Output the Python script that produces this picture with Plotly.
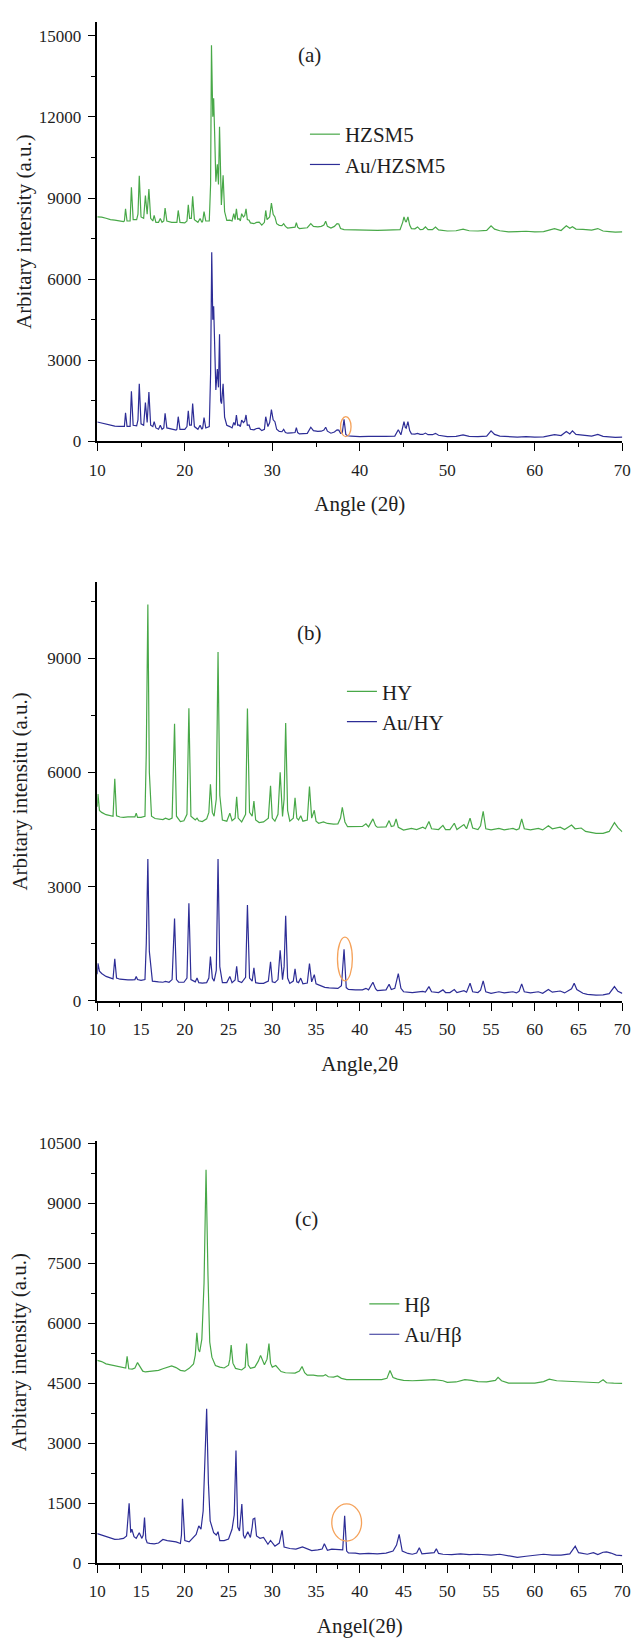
import plotly.graph_objects as go

# ---------------- data ----------------
# Panel (a)
hzsm5_pts = [(10.0, 8300), (10.5, 8290), (11.0, 8250), (11.5, 8200), (12.0, 8180), (12.5, 8150), (13.0, 8130),
    (13.1, 8150), (13.23, 8600), (13.4, 8150), (13.75, 8150), (13.9, 9400), (14.1, 8200),
    (14.5, 8200), (14.65, 8400), (14.8, 9820), (15.0, 8300), (15.3, 8250), (15.5, 9090), (15.7, 8400),
    (15.9, 9330), (16.1, 8250), (16.35, 8150), (16.5, 8360), (16.7, 8100), (17.0, 8100), (17.2, 8240),
    (17.4, 8100), (17.6, 8150), (17.75, 8630), (17.95, 8150), (18.5, 8100), (19.0, 8080), (19.1, 8100),
    (19.25, 8540), (19.45, 8100), (20.0, 8080), (20.25, 8150), (20.4, 8750), (20.55, 8250), (20.75, 8250),
    (20.9, 9060), (21.1, 8200), (21.5, 8100), (21.75, 8240), (21.95, 8100), (22.05, 8150), (22.2, 8500),
    (22.4, 8150), (22.8, 8150), (22.95, 9500), (23.05, 14650), (23.2, 12000), (23.3, 12690), (23.42, 11300),
    (23.55, 9600), (23.72, 10250), (23.85, 9500), (23.97, 11630), (24.1, 8900), (24.18, 8745), (24.38, 9840),
    (24.55, 8500), (24.8, 8170), (25.15, 8180), (25.4, 8150), (25.6, 8420), (25.75, 8200), (25.9, 8600),
    (26.05, 8200), (26.2, 8240), (26.35, 8150), (26.5, 8420), (26.7, 8300), (26.85, 8350), (27.0, 8600),
    (27.15, 8200), (27.35, 8180), (27.5, 8080), (27.9, 8050), (28.2, 8100), (28.5, 8110), (28.8, 8000),
    (29.1, 8100), (29.25, 8540), (29.4, 8200), (29.5, 8240), (29.7, 8300), (29.9, 8810), (30.1, 8400),
    (30.3, 8300), (30.5, 8050), (30.8, 7990), (31.1, 7980), (31.3, 8050), (31.5, 7950), (31.75, 7890),
    (32.2, 7900), (32.6, 7920), (32.75, 8090), (32.9, 7920), (33.1, 7870), (33.6, 7880), (34.0, 7900),
    (34.4, 8050), (34.7, 7950), (35.2, 7930), (35.6, 7950), (35.9, 8000), (36.1, 8140), (36.3, 7950),
    (36.7, 7890), (37.1, 7950), (37.4, 8050), (37.6, 8040), (37.8, 7870), (38.2, 7830), (39.0, 7820),
    (40.0, 7810), (41.0, 7820), (42.0, 7800), (43.0, 7810), (44.0, 7810), (44.6, 7830), (44.9, 8100),
    (45.05, 8300), (45.2, 8150), (45.3, 8110), (45.5, 8300), (45.7, 8000), (45.9, 7870), (46.3, 7860),
    (46.6, 7930), (46.9, 7830), (47.2, 7840), (47.5, 7930), (47.8, 7830), (48.3, 7830), (48.65, 7930),
    (49.0, 7820), (50.0, 7780), (51.0, 7790), (51.8, 7850), (52.5, 7790), (53.5, 7780), (54.5, 7800),
    (55.0, 7970), (55.4, 7850), (56.0, 7790), (57.0, 7750), (58.0, 7760), (59.0, 7770), (60.0, 7750),
    (61.0, 7760), (62.25, 7870), (63.0, 7800), (63.6, 7970), (64.0, 7880), (64.3, 7940), (64.7, 7850),
    (65.5, 7840), (66.5, 7810), (67.2, 7870), (67.8, 7780), (68.5, 7760), (69.2, 7740), (70.0, 7750)]

au_hzsm5_pts = [(10.0, 720), (10.5, 680), (11.0, 650), (11.5, 620), (12.0, 570), (12.5, 560), (13.0, 540),
    (13.1, 560), (13.23, 1060), (13.4, 560), (13.75, 560), (13.9, 1855), (14.1, 600), (14.5, 580),
    (14.65, 800), (14.8, 2135), (15.0, 650), (15.3, 600), (15.5, 1440), (15.7, 700), (15.9, 1830),
    (16.1, 600), (16.35, 550), (16.5, 730), (16.7, 500), (17.0, 450), (17.2, 600), (17.4, 450), (17.6, 500),
    (17.75, 1040), (17.95, 500), (18.5, 450), (19.0, 420), (19.1, 450), (19.25, 915), (19.45, 450),
    (20.0, 450), (20.25, 550), (20.4, 1135), (20.55, 600), (20.75, 600), (20.9, 1400), (21.1, 550),
    (21.5, 450), (21.75, 600), (21.95, 450), (22.05, 500), (22.2, 880), (22.4, 500), (22.8, 550),
    (22.95, 2500), (23.08, 6990), (23.2, 4500), (23.3, 5000), (23.42, 3300), (23.55, 1900), (23.72, 2680),
    (23.85, 2000), (23.97, 3965), (24.1, 1500), (24.2, 1400), (24.38, 2135), (24.55, 900), (24.8, 600),
    (25.15, 550), (25.4, 500), (25.6, 700), (25.75, 600), (25.9, 980), (26.05, 600), (26.2, 610),
    (26.35, 550), (26.5, 790), (26.7, 700), (26.85, 750), (27.0, 980), (27.15, 600), (27.35, 610),
    (27.5, 450), (27.9, 430), (28.2, 480), (28.5, 490), (28.8, 400), (29.1, 450), (29.25, 915), (29.4, 600),
    (29.5, 550), (29.7, 700), (29.9, 1180), (30.1, 800), (30.3, 730), (30.5, 450), (30.8, 370), (31.1, 360),
    (31.3, 450), (31.5, 330), (31.75, 305), (32.2, 320), (32.6, 330), (32.75, 510), (32.9, 330), (33.1, 280),
    (33.6, 290), (34.0, 300), (34.4, 525), (34.7, 400), (35.2, 370), (35.6, 380), (35.9, 420), (36.1, 525),
    (36.3, 380), (36.7, 305), (37.1, 350), (37.4, 430), (37.6, 420), (37.8, 300), (38.0, 320), (38.2, 820),
    (38.4, 260), (38.6, 210), (39.0, 200), (40.0, 180), (41.0, 190), (42.0, 180), (43.0, 190), (44.0, 200),
    (44.4, 430), (44.7, 245), (44.9, 500), (45.05, 730), (45.2, 520), (45.3, 490), (45.5, 730), (45.7, 400),
    (45.9, 280), (46.3, 270), (46.6, 300), (46.9, 260), (47.2, 260), (47.5, 310), (47.8, 250), (48.3, 250),
    (48.65, 300), (49.0, 230), (50.0, 180), (51.0, 190), (51.8, 240), (52.5, 190), (53.5, 180), (54.5, 200),
    (55.0, 390), (55.4, 260), (56.0, 200), (57.0, 170), (58.0, 160), (59.0, 180), (60.0, 160), (61.0, 170),
    (62.25, 250), (63.0, 220), (63.6, 370), (64.0, 280), (64.3, 390), (64.7, 260), (65.5, 240), (66.5, 200),
    (67.2, 260), (67.8, 190), (68.5, 170), (69.2, 150), (70.0, 160)]

# Panel (b)
hy_pts = [(10.0, 5100), (10.08, 5430), (10.25, 5000), (10.5, 4950), (11.0, 4890), (11.5, 4860), (11.8, 4850),
    (12.0, 5830), (12.2, 4860), (12.6, 4830), (13.0, 4820), (13.5, 4830), (14.0, 4820), (14.3, 4830),
    (14.45, 4930), (14.6, 4820), (15.0, 4820), (15.45, 4850), (15.6, 6500), (15.78, 10410), (15.95, 6000),
    (16.2, 4850), (16.6, 4790), (17.0, 4770), (17.5, 4760), (17.8, 4800), (18.2, 4760), (18.55, 4800),
    (18.83, 7275), (19.05, 4850), (19.5, 4710), (19.9, 4730), (20.25, 4900), (20.47, 7686), (20.7, 4850),
    (21.2, 4750), (21.4, 4800), (21.6, 4730), (22.0, 4710), (22.5, 4780), (22.75, 4950), (22.93, 5690),
    (23.15, 4950), (23.35, 4850), (23.6, 5300), (23.8, 9160), (24.0, 5400), (24.3, 4750), (24.8, 4720),
    (25.15, 4930), (25.4, 4730), (25.75, 4800), (25.93, 5360), (26.1, 4800), (26.5, 4700), (26.95, 4900),
    (27.16, 7677), (27.4, 4950), (27.7, 4850), (27.9, 5245), (28.1, 4750), (28.5, 4683), (29.0, 4700),
    (29.55, 4800), (29.8, 5650), (30.0, 4800), (30.3, 4720), (30.65, 4900), (30.9, 6005), (31.17, 4845),
    (31.35, 5300), (31.53, 7300), (31.75, 5000), (32.0, 4720), (32.4, 4800), (32.6, 5335), (32.8, 4800),
    (33.0, 4750), (33.25, 4860), (33.5, 4720), (34.0, 4750), (34.25, 5630), (34.5, 4800), (34.8, 5005),
    (35.0, 4720), (35.3, 4665), (35.85, 4700), (36.3, 4660), (37.0, 4640), (37.5, 4650), (37.8, 4800),
    (38.0, 5085), (38.3, 4700), (38.6, 4575), (39.5, 4570), (40.3, 4580), (40.7, 4650), (41.0, 4570),
    (41.5, 4780), (41.8, 4600), (42.0, 4560), (42.5, 4560), (43.0, 4570), (43.35, 4735), (43.6, 4580),
    (43.9, 4600), (44.15, 4780), (44.4, 4560), (45.0, 4486), (45.9, 4530), (46.5, 4500), (47.2, 4560),
    (47.5, 4520), (47.9, 4710), (48.2, 4520), (49.0, 4500), (49.5, 4610), (49.8, 4500), (50.3, 4500),
    (50.8, 4665), (51.1, 4500), (51.9, 4630), (52.2, 4520), (52.6, 4800), (52.9, 4540), (53.5, 4500),
    (53.8, 4600), (54.1, 4980), (54.4, 4520), (55.0, 4490), (55.9, 4530), (56.5, 4490), (57.5, 4530),
    (57.9, 4490), (58.2, 4520), (58.5, 4780), (58.8, 4520), (59.5, 4490), (60.4, 4530), (60.9, 4490),
    (61.55, 4600), (62.0, 4520), (62.9, 4560), (63.4, 4500), (64.2, 4620), (64.6, 4520), (65.3, 4540),
    (65.8, 4450), (66.5, 4420), (67.0, 4397), (67.8, 4400), (68.5, 4450), (69.1, 4683), (69.5, 4550),
    (70.0, 4440)]

au_hy_pts = [(10.0, 700), (10.08, 985), (10.25, 780), (10.5, 720), (11.0, 643), (11.5, 600), (11.8, 580),
    (12.0, 1108), (12.2, 600), (12.6, 570), (13.0, 560), (13.5, 555), (14.0, 554), (14.3, 560), (14.45, 643),
    (14.6, 560), (15.0, 540), (15.45, 560), (15.6, 1500), (15.78, 3727), (15.95, 1300), (16.3, 520),
    (17.0, 500), (17.5, 490), (17.8, 510), (18.2, 490), (18.55, 560), (18.83, 2163), (19.05, 560),
    (19.3, 490), (19.9, 490), (20.25, 600), (20.47, 2565), (20.7, 560), (21.2, 500), (21.4, 600),
    (21.6, 480), (22.0, 465), (22.5, 480), (22.75, 600), (22.93, 1162), (23.15, 600), (23.35, 520),
    (23.6, 800), (23.8, 3727), (24.0, 900), (24.3, 480), (24.8, 480), (25.15, 643), (25.4, 480),
    (25.75, 550), (25.93, 911), (26.1, 520), (26.5, 480), (26.95, 620), (27.16, 2520), (27.4, 600),
    (27.7, 520), (27.9, 867), (28.1, 480), (28.5, 460), (29.0, 460), (29.55, 520), (29.8, 1028),
    (30.0, 500), (30.3, 480), (30.65, 560), (30.9, 1332), (31.17, 560), (31.35, 900), (31.53, 2234),
    (31.75, 600), (32.0, 460), (32.4, 520), (32.6, 840), (32.8, 500), (33.0, 480), (33.25, 599),
    (33.5, 450), (34.0, 470), (34.25, 983), (34.5, 500), (34.8, 688), (35.0, 450), (35.3, 420),
    (36.0, 357), (36.5, 340), (37.0, 330), (37.5, 330), (37.9, 400), (38.2, 1358), (38.45, 350),
    (38.7, 304), (39.5, 290), (40.3, 290), (40.7, 330), (41.0, 290), (41.5, 490), (41.8, 320), (42.0, 270),
    (42.5, 290), (43.0, 290), (43.35, 438), (43.6, 300), (44.0, 330), (44.4, 715), (44.7, 330), (45.0, 241),
    (46.0, 220), (46.5, 230), (47.2, 250), (47.5, 230), (47.9, 375), (48.2, 240), (49.0, 220), (49.5, 290),
    (49.8, 220), (50.3, 220), (50.8, 300), (51.1, 220), (51.9, 270), (52.2, 230), (52.6, 465), (52.9, 240),
    (53.5, 220), (53.8, 280), (54.1, 527), (54.4, 240), (55.0, 200), (55.9, 240), (56.5, 210), (57.5, 240),
    (57.9, 210), (58.2, 250), (58.5, 447), (58.8, 240), (59.5, 210), (60.4, 240), (60.9, 200), (61.55, 300),
    (62.0, 230), (62.9, 260), (63.4, 210), (64.2, 320), (64.5, 465), (64.8, 300), (65.5, 200), (66.0, 170),
    (67.0, 152), (67.8, 160), (68.5, 190), (69.1, 375), (69.5, 250), (70.0, 197)]

# Panel (c)
hbeta_pts = [(10.0, 5070), (10.5, 5040), (11.0, 4984), (11.5, 4960), (12.0, 4940), (12.5, 4900), (13.0, 4874),
    (13.25, 4880), (13.41, 5170), (13.6, 4860), (14.0, 4850), (14.3, 4880), (14.6, 5015), (14.9, 4900),
    (15.2, 4800), (15.5, 4780), (16.0, 4790), (16.5, 4800), (17.0, 4820), (17.5, 4860), (18.0, 4900),
    (18.5, 4930), (19.0, 4890), (19.5, 4820), (20.0, 4800), (20.5, 4870), (21.0, 4980), (21.2, 5200),
    (21.38, 5760), (21.55, 5350), (21.7, 5280), (21.95, 5600), (22.2, 7000), (22.43, 9840), (22.65, 7200),
    (22.85, 5530), (23.1, 5150), (23.5, 4940), (24.0, 4900), (24.5, 4880), (25.0, 4950), (25.15, 5100),
    (25.3, 5450), (25.5, 5000), (25.8, 4870), (26.5, 4830), (26.9, 4900), (27.07, 5490), (27.25, 4950),
    (27.5, 4870), (28.0, 4900), (28.4, 5050), (28.66, 5195), (28.9, 5050), (29.1, 4960), (29.4, 5100),
    (29.62, 5490), (29.8, 5000), (30.0, 4900), (30.4, 4940), (30.7, 4850), (31.0, 4790), (31.5, 4760),
    (32.0, 4750), (32.6, 4750), (33.1, 4800), (33.4, 4916), (33.7, 4760), (34.0, 4700), (34.7, 4700),
    (35.2, 4680), (35.8, 4680), (36.08, 4713), (36.4, 4660), (37.0, 4650), (37.45, 4680), (37.9, 4620),
    (38.5, 4587), (39.5, 4590), (40.5, 4580), (41.5, 4590), (42.5, 4590), (43.1, 4620), (43.45, 4815),
    (43.8, 4640), (44.3, 4600), (45.0, 4570), (46.0, 4560), (47.0, 4570), (48.5, 4590), (49.5, 4560),
    (50.0, 4519), (51.0, 4530), (52.0, 4590), (52.8, 4570), (53.5, 4540), (54.5, 4530), (55.5, 4570),
    (55.8, 4646), (56.2, 4560), (57.0, 4500), (58.5, 4500), (60.0, 4500), (61.0, 4540), (61.65, 4600),
    (62.5, 4560), (63.5, 4550), (64.5, 4540), (65.5, 4530), (66.5, 4510), (67.3, 4510), (67.8, 4587),
    (68.2, 4510), (69.0, 4500), (70.0, 4494)]

au_hbeta_pts = [(10.0, 735), (10.5, 700), (11.0, 660), (11.5, 620), (12.0, 591), (12.5, 600), (13.0, 617),
    (13.35, 680), (13.64, 1495), (13.82, 760), (13.95, 845), (14.2, 660), (14.45, 617), (14.8, 760),
    (15.1, 617), (15.25, 700), (15.4, 1140), (15.55, 600), (15.7, 507), (16.0, 490), (16.5, 481),
    (17.0, 500), (17.5, 591), (18.0, 560), (18.5, 550), (19.0, 530), (19.5, 490), (19.62, 700),
    (19.74, 1605), (19.9, 650), (20.0, 560), (20.5, 530), (21.0, 650), (21.3, 718), (21.6, 929),
    (21.85, 845), (22.1, 1300), (22.3, 2600), (22.5, 3860), (22.7, 2000), (22.9, 1056), (23.3, 760),
    (23.6, 700), (23.8, 785), (24.0, 560), (24.5, 560), (25.0, 600), (25.4, 845), (25.65, 1200),
    (25.85, 2813), (26.05, 900), (26.25, 800), (26.52, 1478), (26.7, 700), (26.85, 617), (27.2, 785),
    (27.5, 640), (27.7, 900), (27.8, 1098), (28.0, 1123), (28.2, 676), (28.6, 620), (29.0, 640),
    (29.5, 470), (29.8, 566), (30.3, 422), (30.8, 500), (31.12, 819), (31.35, 400), (32.0, 363),
    (32.7, 350), (33.45, 405), (34.0, 360), (34.5, 310), (35.2, 330), (35.7, 350), (35.95, 481),
    (36.3, 320), (36.8, 350), (37.5, 338), (38.05, 330), (38.27, 1183), (38.5, 300), (38.7, 253),
    (39.5, 250), (40.0, 228), (41.0, 240), (42.0, 228), (43.0, 250), (43.8, 300), (44.2, 450), (44.5, 718),
    (44.85, 300), (45.5, 240), (46.0, 220), (46.5, 250), (46.8, 380), (47.1, 230), (47.8, 240), (48.5, 260),
    (48.75, 355), (49.0, 240), (49.5, 220), (50.5, 211), (51.5, 230), (52.5, 211), (53.5, 220), (55.0, 200),
    (56.0, 220), (57.0, 190), (58.0, 144), (59.0, 170), (60.0, 200), (61.0, 220), (62.0, 200), (63.0, 200),
    (64.0, 230), (64.62, 422), (65.0, 260), (66.0, 220), (66.7, 260), (67.2, 210), (67.8, 270), (68.2, 279),
    (68.7, 250), (69.3, 200), (70.0, 186)]

series_names = [("HZSM5", "Au/HZSM5"), ("HY", "Au/HY"), ("H\u03b2", "Au/H\u03b2")]
panel_labels = ["(a)", "(b)", "(c)"]
x_titles = ["Angle (2\u03b8)", "Angle,2\u03b8", "Angel(2\u03b8)"]
y_titles = ["Arbitary intersity (a.u.)", "Arbitary intensitu (a.u.)", "Arbitary intensity (a.u.)"]
x_dticks = [10, 5, 5]
y_dticks = [3000, 3000, 1500]
y_tops = [15512, 11000, 10554]
# Au(111) reflection marked by an ellipse: (x0, x1, y0, y1)
au_marks = [(37.8, 39.0, 180, 915), (37.45, 39.15, 528, 1674), (36.8, 40.2, 550, 1478)]
label_pos = [(34.2, 14300), (34.2, 9672), (33.9, 8616)]

# ---------------- figure ----------------
GREEN = "#48a848"
BLUE = "#2d2d96"
ORANGE = "#f5a25a"
FONT = "'Liberation Serif', 'Times New Roman', Times, serif"
TXT = "#1e1e1e"

W, H = 643, 1644
x_dom = [91.7 / W, 631 / W]
y_px = [(15, 439), (581, 1004.3), (1146, 1572.3)]
legend_pos = [(305, 144), (343, 707), (366, 1326)]
y_title_standoff = [1, 14, 6]

fig = go.Figure()
all_pts = [(hzsm5_pts, au_hzsm5_pts), (hy_pts, au_hy_pts), (hbeta_pts, au_hbeta_pts)]
for i, (g_pts, b_pts) in enumerate(all_pts):
    sfx = "" if i == 0 else str(i + 1)
    lg = "legend" + sfx
    for pts, name, col in [(g_pts, series_names[i][0], GREEN), (b_pts, series_names[i][1], BLUE)]:
        xs = [p[0] for p in pts]
        ys = [p[1] for p in pts]
        fig.add_trace(go.Scatter(x=xs, y=ys, mode="lines", name=name,
                                 line=dict(color=col, width=1.2),
                                 xaxis="x" + sfx, yaxis="y" + sfx, legend=lg))

layout = dict(width=W, height=H, margin=dict(l=0, r=0, t=0, b=0),
              paper_bgcolor="white", plot_bgcolor="white",
              font=dict(family=FONT, color=TXT), showlegend=True)
shapes = []
annotations = []
for i in range(3):
    sfx = "" if i == 0 else str(i + 1)
    top, bot = y_px[i]
    layout["xaxis" + sfx] = dict(
        domain=x_dom, anchor="y" + sfx, range=[10, 70], dtick=x_dticks[i], tick0=10,
        showline=True, linecolor="black", linewidth=1.5, ticks="outside", ticklen=8,
        tickwidth=1.3, tickcolor="black", showgrid=False, zeroline=False, ticklabelstandoff=4,
        minor=dict(dtick=x_dticks[i] / 2, ticks="outside", ticklen=4, tickwidth=1.3, tickcolor="black", showgrid=False),
        tickfont=dict(family=FONT, size=17, color=TXT),
        title=dict(text=x_titles[i], font=dict(family=FONT, size=21, color=TXT), standoff=18))
    layout["yaxis" + sfx] = dict(
        domain=[1 - bot / H, 1 - top / H], anchor="x" + sfx, range=[0, y_tops[i]], dtick=y_dticks[i], tick0=0,
        showline=True, linecolor="black", linewidth=1.5, ticks="outside", ticklen=8, tickformat="d",
        tickwidth=1.3, tickcolor="black", showgrid=False, zeroline=False, ticklabelstandoff=3,
        minor=dict(dtick=y_dticks[i] / 2, ticks="outside", ticklen=5, tickwidth=1.3, tickcolor="black", showgrid=False),
        tickfont=dict(family=FONT, size=17, color=TXT),
        title=dict(text=y_titles[i], font=dict(family=FONT, size=21, color=TXT), standoff=y_title_standoff[i]))
    lx, ly = legend_pos[i]
    layout["legend" + sfx] = dict(x=lx / W, y=1 - ly / H, xanchor="left", yanchor="middle",
                                  bgcolor="rgba(0,0,0,0)", borderwidth=0, tracegroupgap=0,
                                  font=dict(family=FONT, size=21, color=TXT))
    x0, x1, y0, y1 = au_marks[i]
    shapes.append(dict(type="circle", xref="x" + sfx, yref="y" + sfx, x0=x0, x1=x1, y0=y0, y1=y1,
                       line=dict(color=ORANGE, width=1.3)))
    px_, py_ = label_pos[i]
    annotations.append(dict(text=panel_labels[i], x=px_, y=py_, xref="x" + sfx, yref="y" + sfx,
                            showarrow=False, font=dict(family=FONT, size=21, color=TXT)))
layout["shapes"] = shapes
layout["annotations"] = annotations
fig.update_layout(**layout)
fig.write_html("out.html")
